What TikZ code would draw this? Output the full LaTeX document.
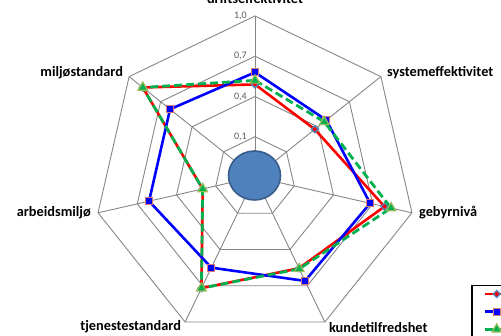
\documentclass[tikz,border=0pt]{standalone}
\usepackage{fontspec}
\setmainfont{Carlito}
\usetikzlibrary{calc,shapes.geometric}
\definecolor{gridgray}{RGB}{134,134,134}
\definecolor{ticktext}{RGB}{89,89,89}
\definecolor{bubble}{RGB}{79,129,189}
\definecolor{bubbleedge}{RGB}{56,93,138}
\definecolor{serred}{RGB}{255,0,0}
\definecolor{serblue}{RGB}{0,0,255}
\definecolor{sergreen}{RGB}{0,176,80}
\definecolor{mkblue}{RGB}{79,129,189}
\definecolor{mkred}{RGB}{217,120,117}
\definecolor{mkgreen}{RGB}{155,187,89}
\tikzset{
  grid line/.style={draw=gridgray, line width=0.9pt},
  axis label/.style={inner sep=0pt, font=\bfseries\fontsize{14.3}{17}\selectfont},
  tick label/.style={inner sep=0pt, text=ticktext, font=\fontsize{10}{12}\selectfont},
  red series/.style={draw=serred, line width=2.6pt, line join=round},
  blue series/.style={draw=serblue, line width=2.6pt, line join=round},
  green series/.style={draw=sergreen, line width=2.8pt, dash pattern=on 8pt off 4pt},
  red mark/.style={diamond, draw=mkblue, fill=serred, line width=1.3pt, inner sep=0pt, minimum size=7.5pt},
  blue mark/.style={rectangle, draw=mkred, fill=serblue, line width=1.3pt, inner sep=0pt, minimum size=7pt},
  green mark/.style={regular polygon, regular polygon sides=3, draw=mkgreen, fill=sergreen, line width=1.2pt, inner sep=0pt, minimum size=11pt},
}
\tikzset{radar/.pic={code={%

      % coordinates to be reused
      \coordinate (O) at (255,177);
      \foreach \k in {0,...,6}
        \coordinate (v\k) at ($(O)+({-90+\k*360/7}:161)$);

      % draw grid
      \foreach \r in {40.25,80.5,120.75,161}
        \draw [grid line] ($(O)+(-90:\r)$)
          \foreach \k in {1,...,6} {-- ($(O)+({-90+\k*360/7}:\r)$)} -- cycle;
      \foreach \k in {0,...,6}
        \draw [grid line] (O) -- (v\k);
      \draw [draw=bubbleedge, fill=bubble, line width=1.6pt] (254.5,175.5) ellipse [x radius=26, y radius=24.5];

      % add labels
      \node [tick label, anchor=east] (t1) at ($(O)+(-8,-40.25)$) {0,1};
      \node [tick label, anchor=east] (t4) at ($(O)+(-8,-80.5)$) {0,4};
      \node [tick label, anchor=east] (t7) at ($(O)+(-8,-120.75)$) {0,7};
      \node [tick label, anchor=east] (t10) at ($(O)+(-8,-161)$) {1,0};
      \node [axis label, anchor=base] (drift) at (255,4) {driftseffektivitet};
      \node [axis label, anchor=west] (sys) at ($(v1)+(6,-4)$) {systemeffektivitet};
      \node [axis label, anchor=west] (geb) at ($(v2)+(7,0)$) {gebyrnivå};
      \node [axis label, anchor=west] (kunde) at ($(v3)+(4,5)$) {kundetilfredshet};
      \node [axis label, anchor=east] (tjen) at ($(v4)+(-4,5)$) {tjenestestandard};
      \node [axis label, anchor=east] (arb) at ($(v5)+(-7,0)$) {arbeidsmiljø};
      \node [axis label, anchor=east] (milj) at ($(v6)+(-6,-4)$) {miljøstandard};

}}}

\begin{document}
\begin{tikzpicture}[x=1pt, y=-1pt]
    \useasboundingbox (0,0) rectangle (501,336);
    \clip (0,0) rectangle (501,336);
    \path (0,0) pic {radar};

    % data points
    \foreach \v [count=\k from 0] in {0.49,0.37,0.79,0.555,0.72,0.20,0.87}
      \coordinate (r\k) at ($(O)+({-90+\k*360/7}:{(\v+0.2)/1.2*161})$);
    \foreach \v [count=\k from 0] in {0.58,0.48,0.68,0.66,0.55,0.61,0.61}
      \coordinate (b\k) at ($(O)+({-90+\k*360/7}:{(\v+0.2)/1.2*161})$);
    \foreach \v [count=\k from 0] in {0.52,0.46,0.84,0.56,0.72,0.20,0.87}
      \coordinate (g\k) at ($(O)+({-90+\k*360/7}:{(\v+0.2)/1.2*161})$);

    % draw series
    \draw [red series] (r0) -- (r1) -- (r2) -- (r3) -- (r4) -- (r5) -- (r6) -- cycle;
    \foreach \k in {0,...,6}
      \node [red mark] (rm\k) at (r\k) {};
    \draw [blue series] (b0) -- (b1) -- (b2) -- (b3) -- (b4) -- (b5) -- (b6) -- cycle;
    \foreach \k in {0,...,6}
      \node [blue mark] (bm\k) at (b\k) {};
    \draw [green series] (g0) -- (g1) -- (g2) -- (g3) -- (g4) -- (g5) -- (g6) -- cycle;
    \foreach \k in {0,...,6}
      \node [green mark] (gm\k) at (g\k) {};

    % legend, cut by the border
    \draw [fill=white, line width=1.6pt] (471.7,285.7) rectangle (540,370);
    \coordinate (lr0) at (485,294);
    \coordinate (lr1) at (515,294);
    \coordinate (lb0) at (485,311.7);
    \coordinate (lb1) at (515,311.7);
    \coordinate (lg0) at (485,329.3);
    \coordinate (lg1) at (515,329.3);
    \draw [red series] (lr0) -- (lr1);
    \node [red mark] (lrm) at (496.7,294) {};
    \draw [blue series] (lb0) -- (lb1);
    \node [blue mark] (lbm) at (496.7,311.7) {};
    \draw [green series] (lg0) -- (lg1);
    \node [green mark] (lgm) at (496.7,329.3) {};
\end{tikzpicture}
\end{document}
